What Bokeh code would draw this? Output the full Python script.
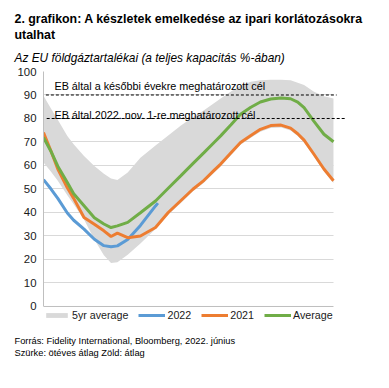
from bokeh.plotting import figure
from bokeh.models import Range1d, Label, Legend, LegendItem, FixedTicker, Title
from bokeh.embed import file_html
from bokeh.resources import INLINE

# ---- data (day of year -> % of full capacity) ----
days = [0, 9, 18, 30, 38, 51, 64, 76, 85, 93, 106, 122, 141, 157, 173, 188,
        202, 215, 223, 236, 248, 261, 273, 286, 299, 311, 320, 328, 340, 353, 365]
band_upper = [89.7, 84.5, 79.5, 72.6, 69.0, 64.0, 59.8, 56.5, 54.5, 53.8, 57.0, 63.3,
              68.5, 72.8, 77.0, 80.5, 83.5, 86.6, 88.5, 91.5, 94.0, 95.6, 96.3, 96.5,
              96.5, 96.3, 95.2, 94.3, 91.5, 89.5, 88.5]
band_lower = [61.3, 57.5, 53.5, 47.3, 43.5, 37.0, 28.5, 21.8, 18.5, 18.8, 22.0, 26.8,
              33.0, 39.0, 44.0, 49.0, 52.7, 57.0, 59.6, 64.4, 68.8, 71.8, 74.4, 76.0,
              76.2, 74.9, 72.5, 69.8, 64.0, 57.5, 52.5]
avg = [71.9, 66.3, 59.7, 52.8, 48.0, 42.9, 37.8, 35.1, 33.6, 34.3, 35.8, 39.9,
       44.9, 50.3, 55.7, 60.8, 65.5, 69.9, 72.6, 77.3, 81.8, 84.8, 87.0, 88.3,
       88.7, 88.4, 87.0, 84.6, 79.0, 73.3, 70.1]
y2021 = [74.0, 66.5, 58.5, 50.5, 46.0, 37.9, 35.0, 32.2, 29.8, 31.2, 29.3, 30.0,
         33.6, 40.0, 45.1, 49.9, 53.7, 58.0, 60.6, 65.4, 69.8, 72.8, 75.4, 77.0,
         77.2, 75.9, 73.5, 70.8, 65.0, 58.5, 53.5]
days_2022 = [0, 9, 18, 30, 38, 51, 64, 76, 85, 93, 106, 122, 141, 144]
y2022 = [54.0, 50.2, 46.0, 39.8, 36.7, 32.9, 28.6, 25.9, 25.4, 25.8, 28.5, 34.5, 42.8, 44.0]

target_vals = [90, 80]
target_labels = ["EB által a későbbi évekre meghatározott cél",
                 "EB által 2022. nov. 1-re meghatározott cél"]
y_ticks = [0, 10, 20, 30, 40, 50, 60, 70, 80, 90, 100]
legend_labels = ["5yr average", "2022", "2021", "Average"]

title_text = "2. grafikon: A készletek emelkedése az ipari korlátozásokra\nutalhat"
subtitle = "Az EU földgáztartalékai (a teljes kapacitás %-ában)"
footer_text = ("Forrás: Fidelity International, Bloomberg, 2022. június\n"
               "Szürke: ötéves átlag Zöld: átlag")

GREY = "#d9d9d9"
BLUE = "#5b9bd5"
ORANGE = "#ed7d31"
GREEN = "#70ad47"
FONT = "Liberation Sans"

p = figure(width=389, height=388, output_backend="svg", toolbar_location=None,
           x_range=Range1d(0, 381.4), y_range=Range1d(-8.09, 100),
           min_border_left=43, min_border_right=43, min_border_top=71,
           min_border_bottom=63, title=None)
p.outline_line_color = None
p.background_fill_color = "white"
p.border_fill_color = "white"

# axes
p.xaxis.visible = False
p.yaxis.ticker = FixedTicker(ticks=y_ticks)
p.yaxis.bounds = (0, 100)
p.yaxis.axis_line_color = "#bfbfbf"
p.yaxis.major_tick_line_color = None
p.yaxis.minor_tick_line_color = None
p.yaxis.major_tick_out = 0
p.yaxis.major_label_standoff = 7
p.yaxis.major_label_text_font = FONT
p.yaxis.major_label_text_font_size = "11.4px"
p.yaxis.major_label_text_color = "#1a1a1a"

p.xgrid.visible = False
p.ygrid.ticker = FixedTicker(ticks=y_ticks[1:])
p.ygrid.grid_line_color = "#d9d9d9"
p.ygrid.cross_bounds = (0, 365)

# series
band_r = p.varea(x=days, y1=band_lower, y2=band_upper, fill_color=GREY)
r2022 = p.line(days_2022, y2022, line_color=BLUE, line_width=3)
r2021 = p.line(days, y2021, line_color=ORANGE, line_width=3)
ravg = p.line(days, avg, line_color=GREEN, line_width=3)

# x axis base line
p.segment(x0=[0], x1=[365], y0=[0], y1=[0], line_color="#bfbfbf", line_width=1)

# target lines
p.segment(x0=[3, 4], x1=[369, 381], y0=target_vals, y1=target_vals,
          line_color="black", line_width=1, line_dash="3 2")
for tv, lab, off in zip(target_vals, target_labels, [4.0, 1.6]):
    p.add_layout(Label(x=13.8, y=tv + off, text=lab, text_font=FONT,
                       text_font_size="10.8px", text_color="black",
                       text_baseline="alphabetic"))

# titles (first added sits closest to the frame)
p.add_layout(Title(text=subtitle, align="left", offset=-29, standoff=13,
                   text_font=FONT, text_font_style="italic",
                   text_font_size="11.9px", text_color="black"), "above")
p.add_layout(Title(text=title_text, align="left", offset=-29, standoff=0,
                   text_font=FONT, text_font_style="bold", text_line_height=1.21,
                   text_font_size="12.4px", text_color="black"), "above")
p.add_layout(Title(text=footer_text, align="left", offset=-29, standoff=16,
                   text_font=FONT, text_font_style="normal", text_line_height=1.15,
                   text_font_size="9.3px", text_color="black"), "below")

legend = Legend(items=[LegendItem(label=legend_labels[0], renderers=[band_r]),
                       LegendItem(label=legend_labels[1], renderers=[r2022]),
                       LegendItem(label=legend_labels[2], renderers=[r2021]),
                       LegendItem(label=legend_labels[3], renderers=[ravg])],
                orientation="horizontal", location=(0, 4),
                margin=0, padding=0, spacing=10, glyph_width=27, glyph_height=6,
                label_height=12, label_standoff=2, label_text_font=FONT,
                label_text_font_size="10.7px", label_text_color="#1a1a1a",
                border_line_alpha=0, background_fill_alpha=0)
p.add_layout(legend, "center")

open("out.html", "w").write(file_html(p, INLINE))
